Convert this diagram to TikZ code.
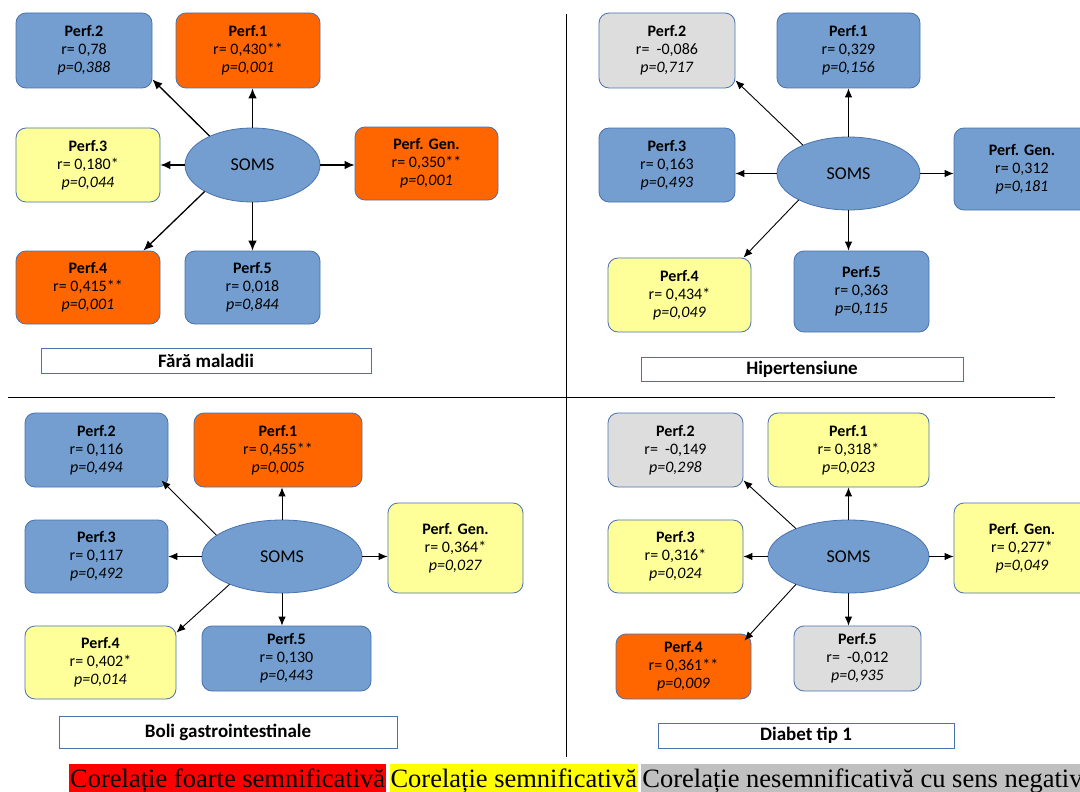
\documentclass[tikz,border=0pt]{standalone}
\usepackage{fontspec}
\setmainfont{Carlito}
\newfontfamily\legendfont{Liberation Serif}
\usepackage{tikz}
\usetikzlibrary{positioning}
\usetikzlibrary{arrows.meta}
\usetikzlibrary{shapes.geometric}
\definecolor{bluefill}{RGB}{115,158,207}
\definecolor{blueline}{RGB}{72,114,176}
\definecolor{orangefill}{RGB}{255,102,0}
\definecolor{yellowfill}{RGB}{255,255,153}
\definecolor{grayfill}{RGB}{221,221,221}
\definecolor{legred}{RGB}{255,0,0}
\definecolor{legyellow}{RGB}{255,255,0}
\definecolor{leggray}{RGB}{192,192,192}
\newcommand{\pf}[3]{\textbf{#1}\\#2\\\textit{#3}}

\begin{document}
\begin{tikzpicture}[x=1pt,y=-1pt,
    perf/.style={draw=blueline, line width=0.8pt, rounded corners=10pt, align=center,
      inner sep=0pt, font=\fontsize{16}{18}\selectfont},
    somsnode/.style={ellipse, draw=blueline, fill=bluefill, line width=0.8pt,
      inner sep=0pt, font=\fontsize{18}{20}\selectfont},
    paneltitle/.style={draw=blueline, fill=white, line width=1pt, inner sep=0pt,
      font=\bfseries\fontsize{19}{20}\selectfont},
    arr/.style={-{Latex[length=9pt,width=7.5pt]}, line width=0.9pt},
    arrthick/.style={-{Latex[length=10pt,width=8.5pt]}, line width=1.3pt},
    legend/.style={font=\legendfont\fontsize{26.5}{30}\selectfont, inner xsep=1pt,
      inner ysep=2pt, text height=21pt, text depth=7pt}]
    \useasboundingbox (0,0) rectangle (1080,792);

    % dividers
    \coordinate (vtop) at (566,14);
    \coordinate (vbot) at (566,757);
    \coordinate (hleft) at (8,397);
    \coordinate (hright) at (1055,397);
    \draw[line width=0.8pt] (vtop) -- (vbot);
    \draw[line width=0.8pt] (hleft) -- (hright);

    % Fara maladii
    \node[perf, fill=bluefill, minimum width=136, minimum height=75] (A2) at (84,50.5) {\pf{Perf.2}{r= 0,78}{p=0,388}};
    \node[perf, fill=orangefill, minimum width=144, minimum height=75] (A1) at (248,50.5) {\pf{Perf.1}{r= 0,430**}{p=0,001}};
    \node[perf, fill=yellowfill, minimum width=144, minimum height=74] (A3) at (88,165) {\pf{Perf.3}{r= 0,180*}{p=0,044}};
    \node[somsnode, minimum width=135, minimum height=74] (AS) at (252.5,165) {SOMS};
    \node[perf, fill=orangefill, minimum width=143, minimum height=73] (AG) at (426.5,163.5) {\pf{Perf. Gen.}{r= 0,350**}{p=0,001}};
    \node[perf, fill=orangefill, minimum width=144, minimum height=73] (A4) at (88,287.5) {\pf{Perf.4}{r= 0,415**}{p=0,001}};
    \node[perf, fill=bluefill, minimum width=135, minimum height=73] (A5) at (252.5,287.5) {\pf{Perf.5}{r= 0,018}{p=0,844}};
    \node[paneltitle, minimum width=330, minimum height=25] (AT) at (206,360.5) {Fără maladii};
    \draw[arrthick] (AS.146) -- ([yshift=9pt]A2.south east);
    \draw[arrthick] (AS.north) -- (AS.north |- A1.south);
    \draw[arrthick] (AS.west) -- (AS.west -| A3.east);
    \draw[arrthick] (AS.east) -- (AS.east -| AG.west);
    \draw[arrthick] (AS.209) -- ([xshift=-17pt]A4.north east);
    \draw[arrthick] (AS.south) -- (AS.south |- A5.north);

    % Hipertensiune
    \node[perf, fill=grayfill, minimum width=136, minimum height=75] (B2) at (667,50.5) {\pf{Perf.2}{r= \ -0,086}{p=0,717}};
    \node[perf, fill=bluefill, minimum width=143, minimum height=75] (B1) at (848.5,50.5) {\pf{Perf.1}{r= 0,329}{p=0,156}};
    \node[perf, fill=bluefill, minimum width=136, minimum height=74] (B3) at (667,165) {\pf{Perf.3}{r= 0,163}{p=0,493}};
    \node[somsnode, minimum width=143, minimum height=73] (BS) at (848.5,173.5) {SOMS};
    \node[perf, fill=bluefill, minimum width=136, minimum height=82] (BG) at (1022,169) {\pf{Perf. Gen.}{r= 0,312}{p=0,181}};
    \node[perf, fill=yellowfill, minimum width=143, minimum height=74] (B4) at (679.5,295) {\pf{Perf.4}{r= 0,434*}{p=0,049}};
    \node[perf, fill=bluefill, minimum width=135, minimum height=81] (B5) at (861.5,291.5) {\pf{Perf.5}{r= 0,363}{p=0,115}};
    \node[paneltitle, minimum width=322, minimum height=24] (BT) at (802,369) {Hipertensiune};
    \draw[arr] (BS.148) -- ([yshift=8pt]B2.south east);
    \draw[arr] (BS.north) -- (BS.north |- B1.south);
    \draw[arr] (BS.west) -- (BS.west -| B3.east);
    \draw[arr] (BS.east) -- (BS.east -| BG.west);
    \draw[arr] (BS.208) -- ([xshift=-8pt]B4.north east);
    \draw[arr] (BS.south) -- (BS.south |- B5.north);

    % Boli gastrointestinale
    \node[perf, fill=bluefill, minimum width=143, minimum height=74] (C2) at (96.5,450) {\pf{Perf.2}{r= 0,116}{p=0,494}};
    \node[perf, fill=orangefill, minimum width=168, minimum height=74] (C1) at (278,450) {\pf{Perf.1}{r= 0,455**}{p=0,005}};
    \node[perf, fill=bluefill, minimum width=143, minimum height=73] (C3) at (96.5,556.5) {\pf{Perf.3}{r= 0,117}{p=0,492}};
    \node[somsnode, minimum width=160, minimum height=73] (CS) at (282,556.5) {SOMS};
    \node[perf, fill=yellowfill, minimum width=135, minimum height=90] (CG) at (455.5,548) {\pf{Perf. Gen.}{r= 0,364*}{p=0,027}};
    \node[perf, fill=yellowfill, minimum width=151, minimum height=73] (C4) at (100.5,662.5) {\pf{Perf.4}{r= 0,402*}{p=0,014}};
    \node[perf, fill=bluefill, minimum width=169, minimum height=65] (C5) at (286.5,658.5) {\pf{Perf.5}{r= 0,130}{p=0,443}};
    \node[paneltitle, minimum width=338, minimum height=32] (CT) at (228,732) {Boli gastrointestinale};
    \draw[arr] (CS.162) -- ([xshift=-7pt,yshift=7pt]C2.south east);
    \draw[arr] (CS.north) -- (CS.north |- C1.south);
    \draw[arr] (CS.west) -- (CS.west -| C3.east);
    \draw[arr] (CS.east) -- (CS.east -| CG.west);
    \draw[arr] (CS.208) -- ([yshift=-7pt]C4.north east);
    \draw[arr] (CS.south) -- (CS.south |- C5.north);

    % Diabet tip 1
    \node[perf, fill=grayfill, minimum width=135, minimum height=74] (D2) at (675.5,450) {\pf{Perf.2}{r= \ -0,149}{p=0,298}};
    \node[perf, fill=yellowfill, minimum width=161, minimum height=74] (D1) at (848.5,450) {\pf{Perf.1}{r= 0,318*}{p=0,023}};
    \node[perf, fill=yellowfill, minimum width=135, minimum height=73] (D3) at (675.5,556.5) {\pf{Perf.3}{r= 0,316*}{p=0,024}};
    \node[somsnode, minimum width=161, minimum height=73] (DS) at (848.5,556.5) {SOMS};
    \node[perf, fill=yellowfill, minimum width=136, minimum height=90] (DG) at (1022,548) {\pf{Perf. Gen.}{r= 0,277*}{p=0,049}};
    \node[perf, fill=orangefill, minimum width=135, minimum height=65] (D4) at (683.5,666.5) {\pf{Perf.4}{r= 0,361**}{p=0,009}};
    \node[perf, fill=grayfill, minimum width=127, minimum height=65] (D5) at (857.5,658.5) {\pf{Perf.5}{r= \ -0,012}{p=0,935}};
    \node[paneltitle, minimum width=296, minimum height=25] (DT) at (806,735.5) {Diabet tip 1};
    \draw[arr] (DS.152) -- ([yshift=7pt]D2.south east);
    \draw[arr] (DS.north) -- (DS.north |- D1.south);
    \draw[arr] (DS.west) -- (DS.west -| D3.east);
    \draw[arr] (DS.east) -- (DS.east -| DG.west);
    \draw[arr] (DS.208) -- ([xshift=-7pt,yshift=-7pt]D4.north east);
    \draw[arr] (DS.south) -- (DS.south |- D5.north);

    % legend
    \node[legend, fill=legred, anchor=base west] (L1) at (69,787) {Corelație foarte semnificativă};
    \node[legend, fill=legyellow, right=3pt of L1] (L2) {Corelație semnificativă};
    \node[legend, fill=leggray, right=3pt of L2] (L3) {Corelație nesemnificativă cu sens negativ};
\end{tikzpicture}
\end{document}
